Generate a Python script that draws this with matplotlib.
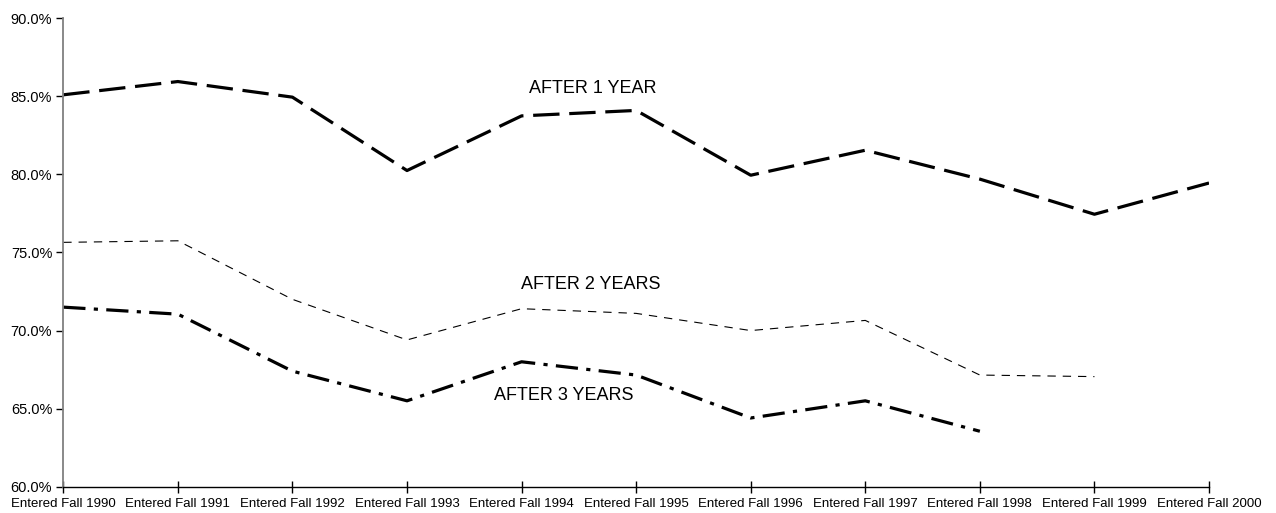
import matplotlib.pyplot as plt
import numpy as np

plt.rcParams['font.family'] = ['Liberation Sans', 'DejaVu Sans']
plt.rcParams['lines.scale_dashes'] = False

years = ["Entered Fall 1990", "Entered Fall 1991", "Entered Fall 1992",
         "Entered Fall 1993", "Entered Fall 1994", "Entered Fall 1995",
         "Entered Fall 1996", "Entered Fall 1997", "Entered Fall 1998",
         "Entered Fall 1999", "Entered Fall 2000"]

# retention rates (%) by entering cohort
after_1 = [85.1, 85.95, 84.95, 80.25, 83.75, 84.1, 79.95, 81.55, 79.7, 77.45, 79.45]
after_2 = [75.65, 75.75, 72.0, 69.4, 71.4, 71.1, 70.0, 70.65, 67.15, 67.05]
after_3 = [71.5, 71.05, 67.4, 65.5, 68.0, 67.15, 64.4, 65.5, 63.55]

fig = plt.figure(figsize=(12.76, 5.13), dpi=100)
ax = fig.add_axes([0.0496, 0.0513, 0.8979, 0.913])

x = np.arange(len(years))
ax.plot(x[:len(after_1)], after_1, color='black', lw=2.3,
        dashes=(19, 7), solid_joinstyle='miter')
ax.plot(x[:len(after_2)], after_2, color='black', lw=0.8,
        dashes=(6, 5))
ax.plot(x[:len(after_3)], after_3, color='black', lw=2.3,
        dashes=(16, 6, 3, 6))

ax.text(4.62, 85.5, "AFTER 1 YEAR", fontsize=13, ha='center', va='center')
ax.text(4.6, 72.95, "AFTER 2 YEARS", fontsize=13, ha='center', va='center')
ax.text(4.37, 65.85, "AFTER 3 YEARS", fontsize=13, ha='center', va='center')

ax.set_xlim(0, 10)
ax.set_ylim(60, 90)
ax.set_xticks(x)
ax.set_xticklabels(years, fontsize=9.5)
ax.set_yticks(np.arange(60, 91, 5))
ax.set_yticklabels([f"{v:.1f}%" for v in np.arange(60, 91, 5)], fontsize=10.5)

ax.spines['top'].set_visible(False)
ax.spines['right'].set_visible(False)
ax.spines['left'].set_color('#808080')
ax.spines['left'].set_linewidth(1.3)
ax.spines['bottom'].set_color('black')
ax.spines['bottom'].set_linewidth(1.0)
ax.tick_params(axis='y', direction='out', length=5, width=1, color='black', pad=3)
ax.tick_params(axis='x', direction='inout', length=8, width=1, color='black', pad=4)

fig.savefig("out.png", dpi=100)
